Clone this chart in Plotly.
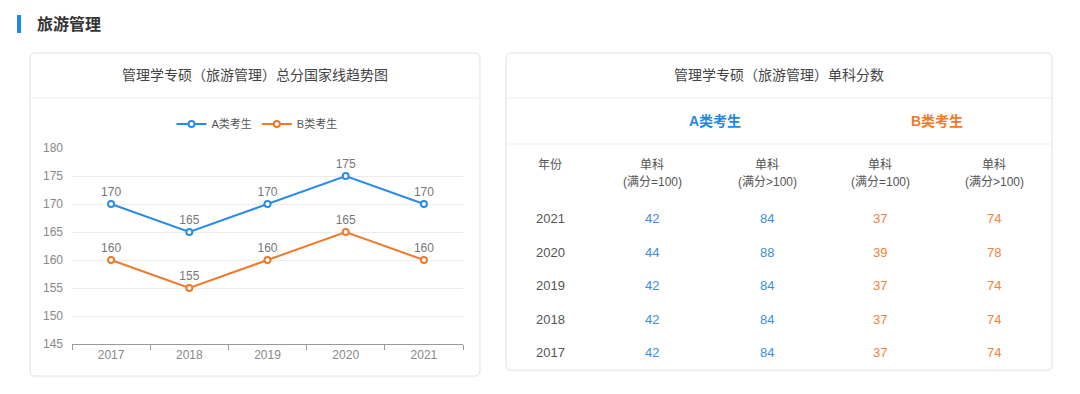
import plotly.graph_objects as go

W, H = 1080, 394

# ---- data ----
years = ["2017", "2018", "2019", "2020", "2021"]
a_total = [170, 165, 170, 175, 170]
b_total = [160, 155, 160, 165, 160]

table_years = ["2021", "2020", "2019", "2018", "2017"]
a_single_eq100 = [42, 44, 42, 42, 42]
a_single_gt100 = [84, 88, 84, 84, 84]
b_single_eq100 = [37, 39, 37, 37, 37]
b_single_gt100 = [74, 78, 74, 74, 74]

BLUE = "#2a8ce8"
ORANGE = "#f07a2a"
FONT = "Liberation Sans, Noto Sans CJK SC, sans-serif"


def px(x):
    return x / W


def py(y):
    return 1 - y / H


def rounded_rect(x0, y0, x1, y1, r=4):
    X = lambda v: f"{px(v):.5f}"
    Y = lambda v: f"{py(v):.5f}"
    return (f"M {X(x0 + r)},{Y(y0)} L {X(x1 - r)},{Y(y0)} Q {X(x1)},{Y(y0)} {X(x1)},{Y(y0 + r)} "
            f"L {X(x1)},{Y(y1 - r)} Q {X(x1)},{Y(y1)} {X(x1 - r)},{Y(y1)} "
            f"L {X(x0 + r)},{Y(y1)} Q {X(x0)},{Y(y1)} {X(x0)},{Y(y1 - r)} "
            f"L {X(x0)},{Y(y0 + r)} Q {X(x0)},{Y(y0)} {X(x0 + r)},{Y(y0)} Z")


fig = go.Figure()
fig.add_trace(go.Scatter(
    x=years, y=a_total, name="A类考生", mode="lines+markers+text",
    text=[str(v) for v in a_total], textposition="top center",
    textfont=dict(color="#777", size=12, family=FONT),
    line=dict(color=BLUE, width=2),
    marker=dict(symbol="circle", size=6, color="white", line=dict(color=BLUE, width=2)),
    cliponaxis=False,
))
fig.add_trace(go.Scatter(
    x=years, y=b_total, name="B类考生", mode="lines+markers+text",
    text=[str(v) for v in b_total], textposition="top center",
    textfont=dict(color="#777", size=12, family=FONT),
    line=dict(color=ORANGE, width=2),
    marker=dict(symbol="circle", size=6, color="white", line=dict(color=ORANGE, width=2)),
    cliponaxis=False,
))

shapes = []
# section marker
shapes.append(dict(type="rect", xref="paper", yref="paper", x0=px(17), x1=px(21), y0=py(33), y1=py(15),
                   fillcolor="#1e88e5", line=dict(width=0)))
# cards
for (x0, y0, x1, y1) in [(30, 53, 480, 376), (506, 53, 1052, 370)]:
    shapes.append(dict(type="path", xref="paper", yref="paper", path=rounded_rect(x0, y0, x1, y1 + 1, 5),
                       fillcolor="rgba(0,0,0,0)", line=dict(color="#f4f4f4", width=1), layer="below"))
    shapes.append(dict(type="path", xref="paper", yref="paper", path=rounded_rect(x0, y0, x1, y1, 5),
                       fillcolor="rgba(0,0,0,0)", line=dict(color="#e6e6e6", width=1), layer="below"))
    shapes.append(dict(type="line", xref="paper", yref="paper", x0=px(x0), x1=px(x1),
                       y0=py(98), y1=py(98), line=dict(color="#ededed", width=1)))
# table group header separator
shapes.append(dict(type="line", xref="paper", yref="paper", x0=px(506), x1=px(1052),
                   y0=py(144), y1=py(144), line=dict(color="#ededed", width=1)))

ann = []


def add_text(x, y, text, size, color, xanchor="center"):
    ann.append(dict(x=px(x), y=py(y), xref="paper", yref="paper", text=text, showarrow=False,
                    xanchor=xanchor, yanchor="middle", font=dict(size=size, color=color, family=FONT)))


add_text(35, 24, "<b>旅游管理</b>", 16, "#333", xanchor="left")
add_text(255, 75, "管理学专硕（旅游管理）总分国家线趋势图", 14, "#444")
add_text(779, 75, "管理学专硕（旅游管理）单科分数", 14, "#444")
add_text(715, 121, "<b>A类考生</b>", 14, "#1e88e5")
add_text(937, 121, "<b>B类考生</b>", 14, "#f07a2a")

col_x = [550, 652, 767, 880, 994]
header_top = ["年份", "单科", "单科", "单科", "单科"]
header_sub = ["", "(满分=100)", "(满分>100)", "(满分=100)", "(满分>100)"]
for cx, t, s in zip(col_x, header_top, header_sub):
    add_text(cx, 165, t, 12, "#555")
    if s:
        add_text(cx, 182, s, 12, "#555")

row_y = [218, 252, 285, 319, 352]
cols = [(table_years, "#555"), (a_single_eq100, "#3a8ee6"), (a_single_gt100, "#3a8ee6"),
        (b_single_eq100, "#f0823a"), (b_single_gt100, "#f0823a")]
for cx, (vals, color) in zip(col_x, cols):
    for ry, v in zip(row_y, vals):
        add_text(cx, ry, str(v), 13, color)

fig.update_layout(
    width=W, height=H, margin=dict(l=0, r=0, t=0, b=0, autoexpand=False),
    paper_bgcolor="white", plot_bgcolor="white",
    font=dict(family=FONT),
    shapes=shapes, annotations=ann,
    showlegend=True,
    legend=dict(orientation="h", x=px(257), y=py(124), xanchor="center", yanchor="middle",
                font=dict(size=11, color="#555", family=FONT), bgcolor="rgba(0,0,0,0)",
                itemwidth=30),
    xaxis=dict(domain=[px(72), px(463)], type="category", tickson="boundaries",
               range=[-0.5, 4.5], autorange=False,
               showline=True, linecolor="#999", linewidth=1, ticks="outside", ticklen=5,
               tickcolor="#999", tickfont=dict(size=12, color="#888"), showgrid=False,
               fixedrange=True, automargin=False),
    yaxis=dict(domain=[py(344), py(148)], range=[145, 180], dtick=5, tick0=145,
               showgrid=True, gridcolor="#ececec", zeroline=False, showline=False,
               tickfont=dict(size=12, color="#888"), ticks="", ticklabelstandoff=8,
               fixedrange=True, automargin=False),
)

fig.write_html("out.html", config={"displayModeBar": False},
               post_script="document.body.style.margin='0';")
